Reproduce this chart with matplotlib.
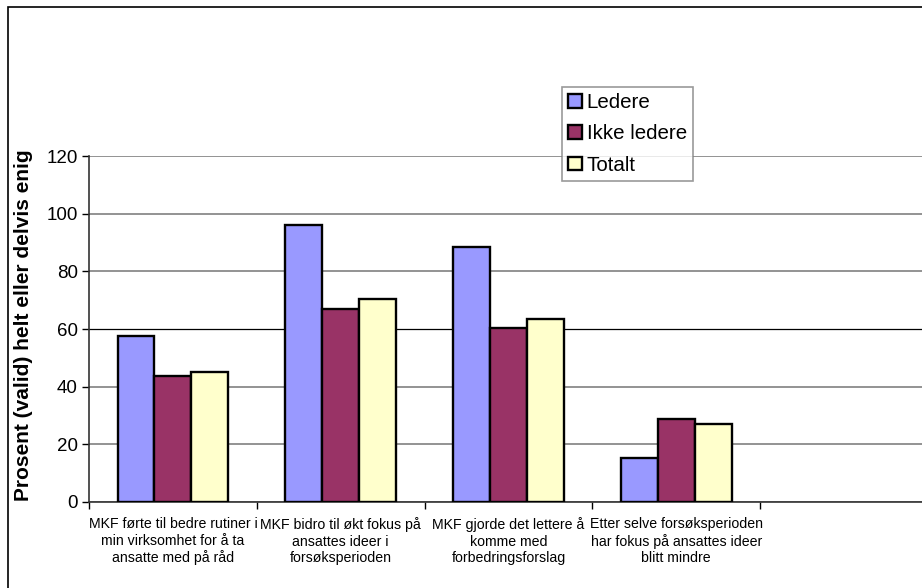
import numpy as np
import matplotlib.pyplot as plt
from matplotlib.patches import Rectangle

plt.rcParams['font.family'] = ['Liberation Sans', 'DejaVu Sans']

# data
categories = [
    "MKF førte til bedre rutiner i\nmin virksomhet for å ta\nansatte med på råd",
    "MKF bidro til økt fokus på\nansattes ideer i\nforsøksperioden",
    "MKF gjorde det lettere å\nkomme med\nforbedringsforslag",
    "Etter selve forsøksperioden\nhar fokus på ansattes ideer\nblitt mindre",
    "",
]
ledere = [57.6, 96.0, 88.3, 15.2, np.nan]
ikke_ledere = [43.7, 66.8, 60.4, 28.8, np.nan]
totalt = [45.2, 70.3, 63.5, 27.2, np.nan]

series_names = ["Ledere", "Ikke ledere", "Totalt"]
series_colors = ["#9999FF", "#993366", "#FFFFCC"]
yticks = [0, 20, 40, 60, 80, 100, 120]

W, H = 922, 588
fig = plt.figure(figsize=(W / 100, H / 100), dpi=100)

# plot area in pixels: x 89 -> 928, y 156 -> 502
ax = fig.add_axes([89 / W, (H - 502) / H, 839 / W, 346 / H])

n = len(categories)
x = np.arange(n) + 0.5
bw = 0.22
for k, (vals, name, col) in enumerate(zip([ledere, ikke_ledere, totalt], series_names, series_colors)):
    ax.bar(x + (k - 1) * bw, vals, width=bw, color=col, edgecolor='black',
           linewidth=1.7, label=name, zorder=3)

ax.set_xlim(0, n)
ax.set_ylim(0, 120)
ax.set_yticks(yticks)
ax.tick_params(axis='y', labelsize=13.5, direction='out', length=5, width=1, pad=3)

ax.set_xticks(x)
ax.set_xticklabels(categories, fontsize=10.2, linespacing=1.22)
ax.tick_params(axis='x', which='major', length=0, pad=11)
ax.set_xticks(np.arange(n + 1), minor=True)
ax.tick_params(axis='x', which='minor', direction='out', length=5, width=1)

ax.yaxis.grid(True, color='#808080', linewidth=1.2, zorder=0)
for tv, gl in zip(yticks, ax.yaxis.get_gridlines()):
    if tv == 60:
        gl.set_color('black')
        gl.set_linewidth(0.9)

for side in ['top', 'right']:
    ax.spines[side].set_visible(False)
for side in ['left', 'bottom']:
    ax.spines[side].set_color('#333333')
    ax.spines[side].set_linewidth(1.2)

ax.set_ylabel("Prosent (valid) helt eller delvis enig", fontsize=15,
              fontweight='bold')
ax.yaxis.set_label_coords(-0.067, 0.51)

leg = fig.legend(loc='upper left', bbox_to_anchor=(562 / W, 1 - 87 / H),
                 fontsize=14.8, frameon=True, fancybox=False, edgecolor='#808080',
                 handlelength=0.65, handleheight=0.65, handletextpad=0.25,
                 borderpad=0.3, labelspacing=0.6, borderaxespad=0)
leg.get_frame().set_linewidth(1.2)
for h in leg.legend_handles:
    h.set_linewidth(1.7)

# outer chart frame
fig.add_artist(Rectangle((8 / W, -0.1), 1.0, 1 - 7 / H + 0.1,
                         transform=fig.transFigure, fill=False,
                         edgecolor='black', linewidth=1.2))

fig.savefig("out.png", dpi=100)
